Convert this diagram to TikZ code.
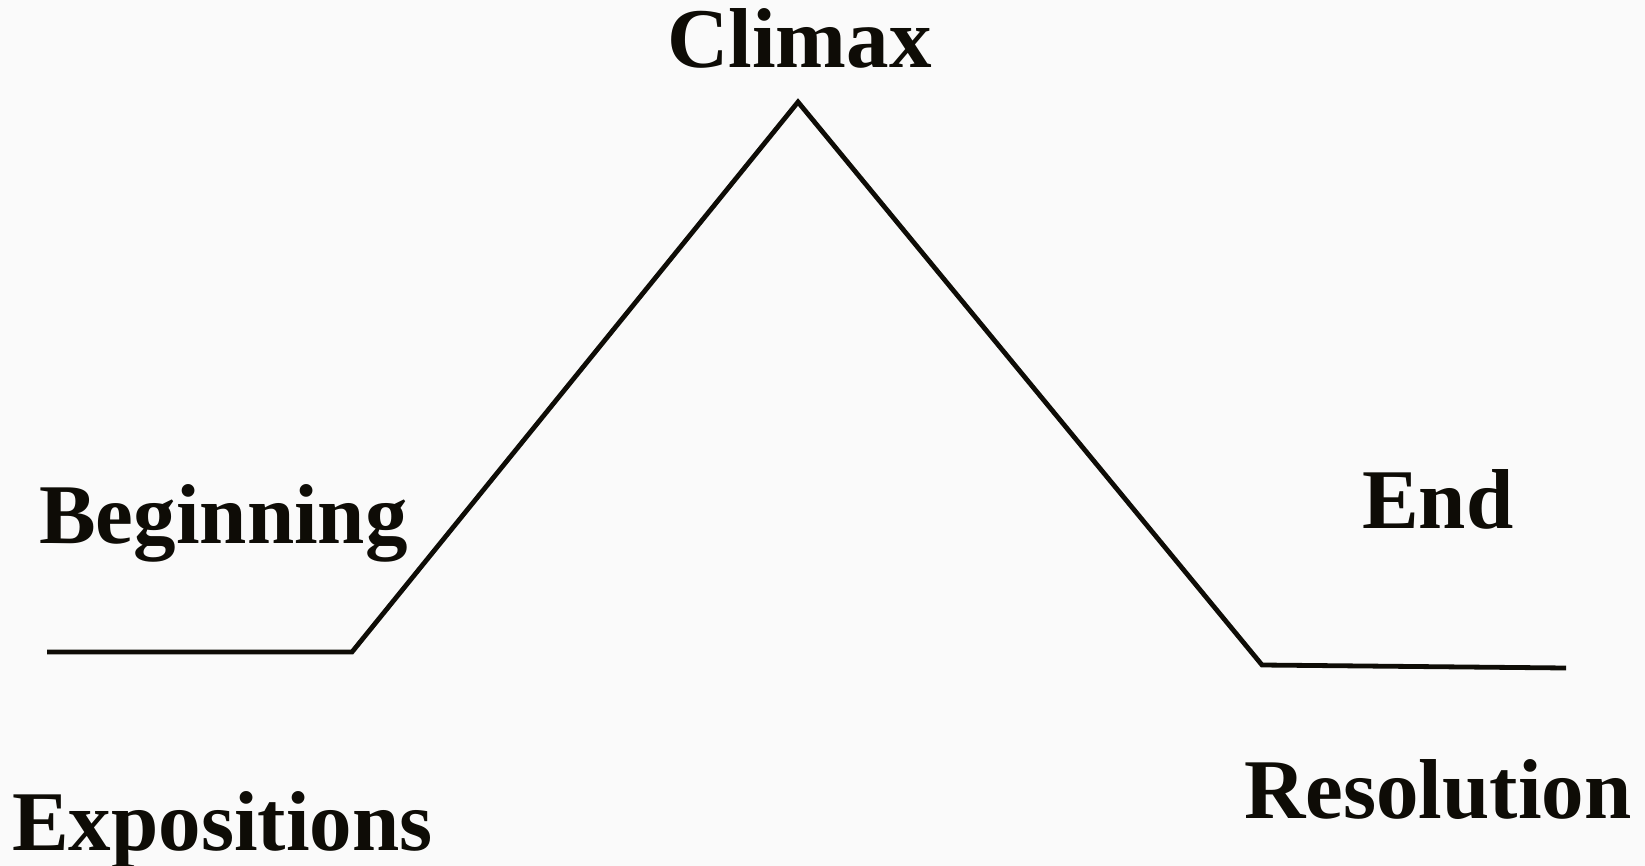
\documentclass[tikz,border=0pt]{standalone}
\usepackage{fontspec}
\setmainfont{Liberation Serif}
\definecolor{bgcol}{HTML}{FAFAFA}
\definecolor{ink}{HTML}{0E0C06}
\begin{document}
\begin{tikzpicture}[x=1pt,y=-1pt,
  lbl/.style={inner sep=0pt,anchor=base west,text=ink,font=\fontsize{85}{100}\selectfont\bfseries},
  plotline/.style={line width=4.8pt,draw=ink,line join=miter}]
\fill[bgcol] (0,0) rectangle (1645,866);
\useasboundingbox (0,0) rectangle (1645,866);
\coordinate (a) at (47,652);
\coordinate (b) at (352,652);
\coordinate (c) at (798,102);
\coordinate (d) at (1262,665);
\coordinate (e) at (1566,668);
\draw[plotline] (a) -- (b) -- (c) -- (d) -- (e);
\node[lbl] (climax) at (667,68) {Climax};
\node[lbl] (beginning) at (39,543) {Beginning};
\node[lbl] (end) at (1362,528) {End};
\node[lbl] (expositions) at (12,850) {Expositions};
\node[lbl] (resolution) at (1244,818) {Resolution};
\end{tikzpicture}
\end{document}
